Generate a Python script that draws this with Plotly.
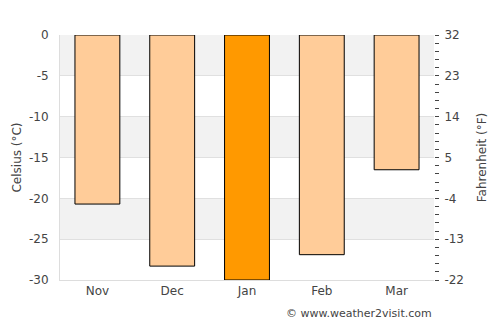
import plotly.graph_objects as go

months = ["Nov", "Dec", "Jan", "Feb", "Mar"]
celsius = [-20.7, -28.3, -30.0, -26.9, -16.5]
colors = ["#ffcc99", "#ffcc99", "#ff9900", "#ffcc99", "#ffcc99"]
c_ticks = [0, -5, -10, -15, -20, -25, -30]
f_ticks = [32, 23, 14, 5, -4, -13, -22]

fig = go.Figure()
fig.add_trace(go.Bar(x=months, y=celsius, marker=dict(color=colors, line=dict(color="#000000", width=1)),
                     width=0.6, showlegend=False, hoverinfo="skip"))
fig.add_trace(go.Scatter(x=months, y=[c * 9 / 5 + 32 for c in celsius], yaxis="y2",
                         mode="markers", marker=dict(opacity=0), showlegend=False, hoverinfo="skip"))

# alternating bands
for i in range(0, len(c_ticks) - 1, 2):
    fig.add_shape(type="rect", xref="paper", yref="y", x0=0, x1=1, y0=c_ticks[i], y1=c_ticks[i + 1],
                  fillcolor="#f2f2f2", line=dict(width=0), layer="below")

font = dict(family="DejaVu Sans", size=11, color="#444444")
fig.update_layout(
    width=500, height=325, margin=dict(l=60, r=66, t=35, b=45),
    paper_bgcolor="white", plot_bgcolor="rgba(0,0,0,0)", font=font, bargap=0.4,
    xaxis=dict(showgrid=False, showline=True, linecolor="#dddddd", ticks="", tickfont=dict(size=12, color="#444444"),
               range=[-0.5, 4.5]),
    yaxis=dict(range=[-30, 0], tickvals=c_ticks, ticktext=[str(v) for v in c_ticks],
               showgrid=True, gridcolor="#e0e0e0", zeroline=False,
               showline=True, linecolor="#dddddd", ticks="", ticklabelstandoff=8,
               title=dict(text="Celsius (°C)", font=dict(size=12, color="#444444"), standoff=4),
               tickfont=dict(size=12, color="#444444")),
    yaxis2=dict(range=[-22, 32], overlaying="y", side="right", tickvals=f_ticks, ticktext=[str(v) for v in f_ticks],
                showgrid=False, zeroline=False, ticklabelstandoff=3,
                showline=False, ticks="outside", ticklen=4, tickcolor="#444444",
                minor=dict(dtick=1.8, tick0=32, ticks="outside", ticklen=4, tickcolor="#444444"),
                title=dict(text="Fahrenheit (°F)", font=dict(size=12, color="#444444"), standoff=14),
                tickfont=dict(size=12, color="#444444")),
    annotations=[dict(text="© www.weather2visit.com", xref="paper", yref="paper", x=1.0, y=-0.135,
                      xanchor="right", yanchor="middle", showarrow=False,
                      font=dict(size=11, color="#444444"))],
)
fig.write_html("out.html")
